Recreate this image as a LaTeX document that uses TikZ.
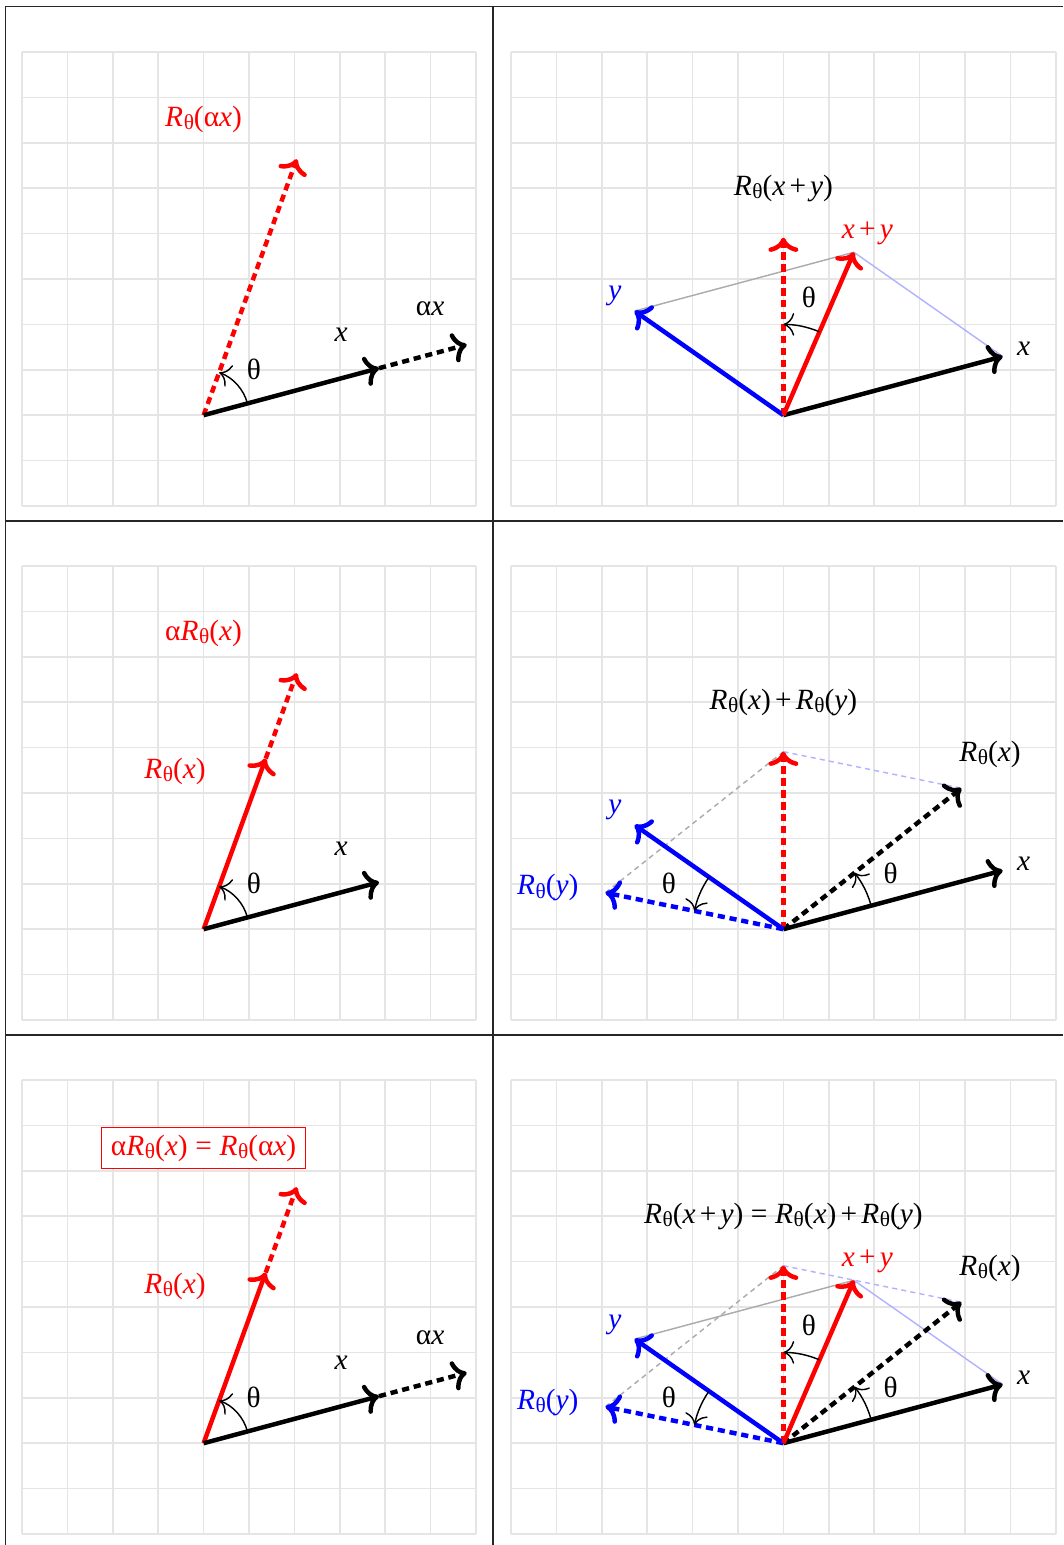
\documentclass[tikz,border=0pt]{standalone}
\usepackage{fontspec}
\setmainfont{Liberation Serif}
\usetikzlibrary{calc,arrows.meta}
\newcommand{\vx}{\textit{x}}
\newcommand{\vy}{\textit{y}}
\newcommand{\Rth}{\textit{R}\kern0.02em\raisebox{-2pt}{\fontsize{13.4}{12}\selectfont θ}}
\newcommand{\pl}{\hspace{0.14em}+\hspace{0.14em}}
\newcommand{\eqs}{\hspace{0.26em}=\hspace{0.26em}}
\begin{document}
\begin{tikzpicture}[x=1cm,y=1cm,
  gridline/.style={draw=black!10, line width=0.9pt},
  tip/.style={-{To[scale=1.15]}},
  vec/.style={line width=2.8pt, tip},
  dvec/.style={line width=2.8pt, tip, dash pattern=on 4.5pt off 3pt},
  lbl/.style={font=\fontsize{18.4}{22}\selectfont, inner sep=0pt},
  ang/.style={line width=0.9pt, -{To[scale=1.9]}},
  para/.style={line width=0.9pt},
  dpara/.style={line width=0.9pt, dash pattern=on 3.2pt off 2.6pt},
  tbl/.style={line width=0.7pt, draw=black!85}]
\useasboundingbox (-4.4846,-24.8855) rectangle (18.9295,9.1454);

% table
\coordinate (t1) at (-4.368,9.0);
\coordinate (t2) at (18.9295,9.0);
\coordinate (h1a) at (-4.368,-2.33);
\coordinate (h1b) at (18.9295,-2.33);
\coordinate (h2a) at (-4.368,-13.652);
\coordinate (h2b) at (18.9295,-13.652);
\coordinate (v1a) at (-4.368,9.0);
\coordinate (v1b) at (-4.368,-24.8855);
\coordinate (v2a) at (6.374,9.0);
\coordinate (v2b) at (6.374,-24.8855);
\draw[tbl] (t1) -- (t2);
\draw[tbl] (h1a) -- (h1b);
\draw[tbl] (h2a) -- (h2b);
\draw[tbl] (v1a) -- (v1b);
\draw[tbl] (v2a) -- (v2b);

% ---------- top left ----------
\begin{scope}[shift={(0,0)}]
  \draw[gridline] (-4,-2) grid (6,8);
  \coordinate (a-o) at (0,0);
  \coordinate (a-x) at (15:4);
  \coordinate (a-ax) at (15:6);
  \coordinate (a-rax) at (70:6);
  \draw[dvec, red] (a-o) -- (a-rax);
  \draw[dvec] (a-x) -- (a-ax);
  \draw[vec] (a-o) -- (a-x);
  \draw[ang] (15:1) arc[start angle=15, end angle=70, radius=1];
  \node[lbl, red] (a-l1) at (0,6.52) {\Rth(α\vx)};
  \node[lbl] (a-l2) at (4.99,2.34) {α\vx};
  \node[lbl] (a-l3) at (3.03,1.77) {\vx};
  \node[lbl] (a-l4) at (1.11,1.0) {θ};
\end{scope}

% ---------- top right ----------
\begin{scope}[shift={(12.7709,0)}]
  \draw[gridline] (-6,-2) grid (6,8);
  \coordinate (b-o) at (0,0);
  \coordinate (b-x) at (15:5);
  \coordinate (b-y) at (145:4);
  \coordinate (b-s) at ($(b-x)+(b-y)$);
  \coordinate (b-rs) at (90:3.91);
  \draw[para, black!33] (b-y) -- (b-s);
  \draw[para, blue!30] (b-s) -- (b-x);
  \draw[dvec, red] (b-o) -- (b-rs);
  \draw[vec] (b-o) -- (b-x);
  \draw[vec, blue] (b-o) -- (b-y);
  \draw[vec, red] (b-o) -- (b-s);
  \draw[ang] (66.6:2) arc[start angle=66.6, end angle=90, radius=2];
  \node[lbl] (b-l1) at (0,5.0) {\Rth(\vx\pl\vy)};
  \node[lbl, red] (b-l2) at (1.85,4.0) {\vx\pl\vy};
  \node[lbl, blue] (b-l3) at (-3.71,2.63) {\vy};
  \node[lbl] (b-l4) at (5.29,1.46) {\vx};
  \node[lbl] (b-l5) at (0.56,2.6) {θ};
\end{scope}

% ---------- middle left ----------
\begin{scope}[shift={(0,-11.3216)}]
  \draw[gridline] (-4,-2) grid (6,8);
  \coordinate (c-o) at (0,0);
  \coordinate (c-x) at (15:4);
  \coordinate (c-rx) at (70:4);
  \coordinate (c-arx) at (70:6);
  \draw[dvec, red] (c-rx) -- (c-arx);
  \draw[vec, red] (c-o) -- (c-rx);
  \draw[vec] (c-o) -- (c-x);
  \draw[ang] (15:1) arc[start angle=15, end angle=70, radius=1];
  \node[lbl, red] (c-l1) at (0,6.52) {α\Rth(\vx)};
  \node[lbl, red] (c-l2) at (-0.63,3.47) {\Rth(\vx)};
  \node[lbl] (c-l3) at (3.03,1.77) {\vx};
  \node[lbl] (c-l4) at (1.11,1.0) {θ};
\end{scope}

% ---------- middle right ----------
\begin{scope}[shift={(12.7709,-11.3216)}]
  \draw[gridline] (-6,-2) grid (6,8);
  \coordinate (d-o) at (0,0);
  \coordinate (d-x) at (15:5);
  \coordinate (d-y) at (145:4);
  \coordinate (d-rx) at (38.4:5);
  \coordinate (d-ry) at (168.4:4);
  \coordinate (d-rs) at (90:3.91);
  \draw[dpara, black!33] (d-ry) -- (d-rs);
  \draw[dpara, blue!30] (d-rs) -- (d-rx);
  \draw[dvec] (d-o) -- (d-rx);
  \draw[dvec, blue] (d-o) -- (d-ry);
  \draw[dvec, red] (d-o) -- (d-rs);
  \draw[vec] (d-o) -- (d-x);
  \draw[vec, blue] (d-o) -- (d-y);
  \draw[ang] (15:2) arc[start angle=15, end angle=38.4, radius=2];
  \draw[ang] (145:2) arc[start angle=145, end angle=168.4, radius=2];
  \node[lbl] (d-l1) at (0,5.0) {\Rth(\vx)\pl\Rth(\vy)};
  \node[lbl] (d-l2) at (4.55,3.86) {\Rth(\vx)};
  \node[lbl, blue] (d-l3) at (-3.71,2.63) {\vy};
  \node[lbl, blue] (d-l4) at (-5.19,0.91) {\Rth(\vy)};
  \node[lbl] (d-l5) at (5.29,1.44) {\vx};
  \node[lbl] (d-l6) at (-2.52,1.0) {θ};
  \node[lbl] (d-l7) at (2.36,1.24) {θ};
\end{scope}

% ---------- bottom left ----------
\begin{scope}[shift={(0,-22.6432)}]
  \draw[gridline] (-4,-2) grid (6,8);
  \coordinate (e-o) at (0,0);
  \coordinate (e-x) at (15:4);
  \coordinate (e-ax) at (15:6);
  \coordinate (e-rx) at (70:4);
  \coordinate (e-arx) at (70:6);
  \draw[dvec, red] (e-rx) -- (e-arx);
  \draw[dvec] (e-x) -- (e-ax);
  \draw[vec, red] (e-o) -- (e-rx);
  \draw[vec] (e-o) -- (e-x);
  \draw[ang] (15:1) arc[start angle=15, end angle=70, radius=1];
  \node[lbl, red, draw=red, line width=0.7pt, inner xsep=6pt, inner ysep=4.5pt, fill=white] (e-l1) at (0,6.5) {α\Rth(\vx)\eqs\Rth(α\vx)};
  \node[lbl, red] (e-l2) at (-0.63,3.46) {\Rth(\vx)};
  \node[lbl] (e-l3) at (4.99,2.32) {α\vx};
  \node[lbl] (e-l4) at (3.03,1.77) {\vx};
  \node[lbl] (e-l5) at (1.1,1.0) {θ};
\end{scope}

% ---------- bottom right ----------
\begin{scope}[shift={(12.7709,-22.6432)}]
  \draw[gridline] (-6,-2) grid (6,8);
  \coordinate (f-o) at (0,0);
  \coordinate (f-x) at (15:5);
  \coordinate (f-y) at (145:4);
  \coordinate (f-s) at ($(f-x)+(f-y)$);
  \coordinate (f-rx) at (38.4:5);
  \coordinate (f-ry) at (168.4:4);
  \coordinate (f-rs) at (90:3.91);
  \draw[para, black!33] (f-y) -- (f-s);
  \draw[para, blue!30] (f-s) -- (f-x);
  \draw[dpara, black!33] (f-ry) -- (f-rs);
  \draw[dpara, blue!30] (f-rs) -- (f-rx);
  \draw[dvec] (f-o) -- (f-rx);
  \draw[dvec, blue] (f-o) -- (f-ry);
  \draw[dvec, red] (f-o) -- (f-rs);
  \draw[vec] (f-o) -- (f-x);
  \draw[vec, blue] (f-o) -- (f-y);
  \draw[vec, red] (f-o) -- (f-s);
  \draw[ang] (66.6:2) arc[start angle=66.6, end angle=90, radius=2];
  \draw[ang] (15:2) arc[start angle=15, end angle=38.4, radius=2];
  \draw[ang] (145:2) arc[start angle=145, end angle=168.4, radius=2];
  \node[lbl] (f-l1) at (0,5.0) {\Rth(\vx\pl\vy)\eqs\Rth(\vx)\pl\Rth(\vy)};
  \node[lbl, red] (f-l2) at (1.85,4.0) {\vx\pl\vy};
  \node[lbl] (f-l3) at (4.55,3.85) {\Rth(\vx)};
  \node[lbl, blue] (f-l4) at (-3.71,2.6) {\vy};
  \node[lbl, blue] (f-l5) at (-5.19,0.9) {\Rth(\vy)};
  \node[lbl] (f-l6) at (5.29,1.44) {\vx};
  \node[lbl] (f-l7) at (0.56,2.6) {θ};
  \node[lbl] (f-l8) at (-2.52,1.0) {θ};
  \node[lbl] (f-l9) at (2.36,1.24) {θ};
\end{scope}
\end{tikzpicture}
\end{document}
